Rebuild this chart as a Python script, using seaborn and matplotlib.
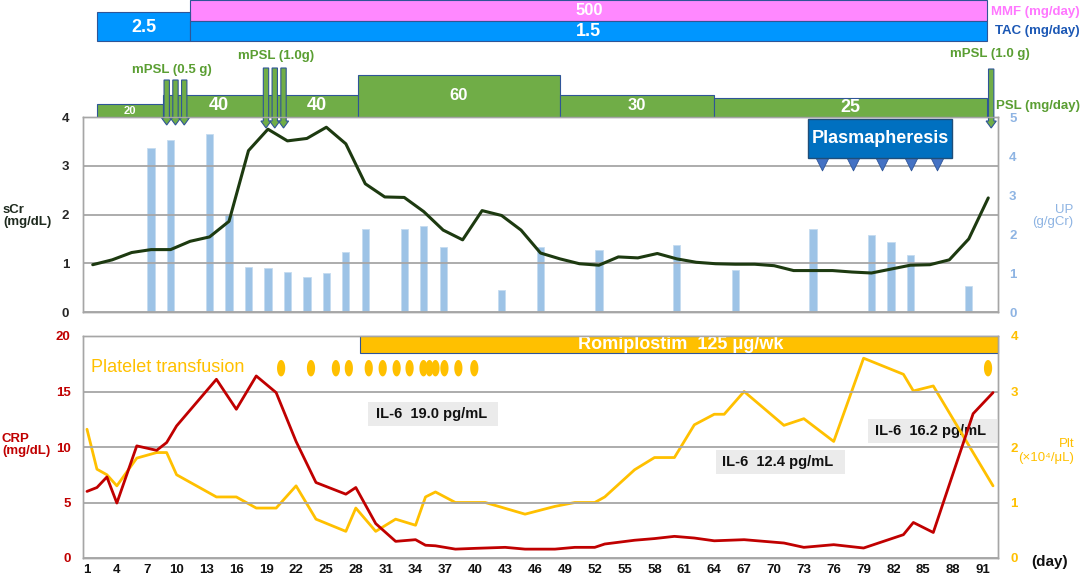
import numpy as np
import matplotlib
matplotlib.use("Agg")
import matplotlib.pyplot as plt
import seaborn as sns
from matplotlib.patches import Rectangle, FancyArrow
from matplotlib.path import Path

# -----------------------------
# data
# -----------------------------
# upper panel: samples every 2nd day
lab_day = list(range(1, 94, 2))
scr = [0.97, 1.07, 1.22, 1.28, 1.28, 1.45, 1.54, 1.86, 3.31, 3.75,
       3.51, 3.56, 3.79, 3.45, 2.63, 2.36, 2.35, 2.06, 1.68, 1.48,
       2.08, 1.98, 1.68, 1.21, 1.09, 0.99, 0.96, 1.13, 1.11, 1.20,
       1.09, 1.02, 0.99, 0.98, 0.98, 0.95, 0.85, 0.85, 0.85, 0.82,
       0.80, 0.88, 0.96, 0.97, 1.07, 1.50, 2.34]
up_day = [7, 9, 13, 15, 17, 19, 21, 23, 25, 27, 29, 33, 35, 37, 43, 47,
          53, 61, 67, 75, 81, 83, 85, 91]
up_val = [4.20, 4.40, 4.57, 2.52, 1.15, 1.12, 1.02, 0.91, 1.00, 1.53, 2.13,
          2.13, 2.20, 1.67, 0.56, 1.67, 1.58, 1.73, 1.07, 2.14, 1.97, 1.79,
          1.47, 0.66]

# lower panel
crp_day = [1, 2, 3, 4, 6, 8, 9, 10, 14, 16, 18, 20, 22, 24, 27, 28, 30, 32,
           34, 35, 36, 38, 40, 43, 45, 48, 50, 52, 53, 56, 58, 60, 62, 64,
           67, 71, 73, 76, 79, 83, 84, 86, 90, 92]
crp = [6.0, 6.35, 7.3, 4.95, 10.1, 9.7, 10.4, 11.9, 16.1, 13.4, 16.4, 14.9,
       10.5, 6.8, 5.75, 6.35, 3.1, 1.5, 1.65, 1.15, 1.1, 0.8, 0.87, 0.96,
       0.8, 0.8, 0.96, 0.96, 1.26, 1.6, 1.75, 1.95, 1.8, 1.55, 1.65, 1.35,
       0.96, 1.2, 0.9, 2.1, 3.2, 2.3, 13.0, 14.9]
plt_day = [1, 2, 3, 4, 6, 8, 9, 10, 14, 16, 18, 20, 22, 24, 27, 28, 30, 32,
           34, 35, 36, 38, 41, 45, 48, 50, 52, 53, 56, 58, 60, 62, 64, 65,
           67, 71, 73, 76, 79, 83, 84, 86, 88, 92]
plt_val = [2.32, 1.6, 1.5, 1.3, 1.8, 1.9, 1.9, 1.5, 1.1, 1.1, 0.9, 0.9, 1.3,
           0.7, 0.48, 0.9, 0.48, 0.7, 0.59, 1.1, 1.19, 1.0, 1.0, 0.79, 0.93,
           1.0, 1.0, 1.1, 1.59, 1.81, 1.81, 2.4, 2.59, 2.59, 3.0, 2.39, 2.51,
           2.1, 3.6, 3.31, 3.01, 3.1, 2.5, 1.3]
transfusion_day = [20.5, 23.5, 26, 27.3, 29.3, 30.7, 32.1, 33.4, 34.8, 35.4,
                   36.0, 36.9, 38.3, 39.9, 91.5]
romi_start = 28.4
il6_text = ["IL-6  19.0 pg/mL", "IL-6  12.4 pg/mL", "IL-6  16.2 pg/mL"]

# medication (upper-panel day scale)
mmf_span = (11.0, 92.9)
mmf_dose = "500"
tac_start = [1.45, 11.0]
tac_end = [11.0, 92.9]
tac_dose = ["2.5", "1.5"]
psl_start = [1.45, 8.2, 19.7, 28.25, 49.0, 64.8]
psl_end = [8.2, 19.7, 28.25, 49.0, 64.8, 92.9]
psl_dose = ["20", "40", "40", "60", "30", "25"]
mpsl_day = [8.6, 9.5, 10.4, 18.8, 19.7, 20.6, 93.3]
mpsl_label = ["mPSL (0.5 g)", "mPSL (1.0g)", "mPSL (1.0 g)"]
pex_day = [75.9, 79.1, 82.1, 85.1, 87.7]

# -----------------------------
# style
# -----------------------------
sns.set_theme(style="white")
plt.rcParams["font.family"] = ["Liberation Sans", "DejaVu Sans"]

GREEN = "#70ad47"
EDGE = "#2f5597"
GRID = "#a6a6a6"
RED = "#c00000"
ORANGE = "#ffc000"
UPBLUE = "#8eb4e3"

W, H = 1084, 578
fig = plt.figure(figsize=(W / 100, H / 100), dpi=100)


def fx(px):
    return px / W


def fy(py):
    return 1 - py / H


def frame(ax):
    for s in ax.spines.values():
        s.set_visible(True)
        s.set_color(GRID)
        s.set_linewidth(1.0)


# -----------------------------
# upper panel: sCr + UP
# -----------------------------
ax_up = fig.add_axes([fx(83), fy(312), fx(915), 195 / H])
ax_up2 = ax_up.twinx()
ax_up2.bar(up_day, up_val, width=0.75, color="#9dc3e6", edgecolor="#c5dcf0",
           linewidth=0.6)
ax_up2.set_ylim(0, 5)
ax_up2.set_yticks(range(0, 6))
ax_up2.tick_params(axis="y", length=0, pad=8, labelsize=9.5, labelcolor=UPBLUE)

sns.lineplot(x=lab_day, y=scr, ax=ax_up, color="#1d3a10", lw=2.2)
ax_up.set_zorder(ax_up2.get_zorder() + 1)
ax_up.patch.set_visible(False)
ax_up.set_xlim(0, 94)
ax_up.set_ylim(0, 4)
ax_up.set_yticks(range(0, 5))
ax_up.set_xticks([])
ax_up.yaxis.grid(True, color=GRID, lw=1.3)
ax_up.set_axisbelow(True)
ax_up.tick_params(axis="y", length=0, pad=10, labelsize=9.5, labelcolor="#262626")
for t in ax_up.get_yticklabels():
    t.set_fontweight("bold")
for t in ax_up2.get_yticklabels():
    t.set_fontweight("bold")
frame(ax_up)
frame(ax_up2)

# plasmapheresis box
ax_up.add_patch(Rectangle((74.5, 3.16), 89.3 - 74.5, 0.8, fc="#0070c0",
                          ec="#1f4e79", lw=1.0, zorder=6))
ax_up.text((74.5 + 89.3) / 2, 3.56, "Plasmapheresis", color="white",
           fontsize=13, fontweight="bold", ha="center", va="center", zorder=7)
sns.scatterplot(x=pex_day, y=[3.04] * len(pex_day), ax=ax_up, marker="v",
                s=85, color="#4472c4", edgecolor=EDGE, linewidth=0.6, zorder=5)

# -----------------------------
# lower panel: CRP + Plt
# -----------------------------
ax_lo = fig.add_axes([fx(83), fy(558), fx(915), 222 / H])
ax_lo2 = ax_lo.twinx()
ax_lo.set_zorder(ax_lo2.get_zorder() + 1)
ax_lo.patch.set_visible(False)

# IL-6 boxes
boxes = [(29.2, 11.9, 42.3, 14.05, 30.0), (64.2, 7.57, 77.1, 9.73, 64.8),
         (79.4, 10.36, 92.4, 12.5, 80.1)]
for (x0, y0, x1, y1, xt), txt in zip(boxes, il6_text):
    ax_lo2.add_patch(Rectangle((x0, y0 / 5), x1 - x0, (y1 - y0) / 5,
                               fc="#ebebeb", ec="none", zorder=0.5))
    ax_lo2.text(xt, (y0 + y1) / 10, txt, fontsize=10.5, fontweight="bold",
                color="#111111", va="center", ha="left", zorder=0.6)

sns.lineplot(x=plt_day, y=plt_val, ax=ax_lo2, color=ORANGE, lw=2.0)
sns.lineplot(x=crp_day, y=crp, ax=ax_lo, color=RED, lw=2.0)

ax_lo.set_xlim(0.6, 92.5)
ax_lo.set_ylim(0, 20)
ax_lo.set_yticks(range(0, 21, 5))
ax_lo.set_xticks(range(1, 92, 3))
ax_lo.yaxis.grid(True, color=GRID, lw=1.3)
ax_lo.tick_params(axis="y", length=0, pad=9, labelsize=9.5, labelcolor=RED)
ax_lo.tick_params(axis="x", length=0, pad=4, labelsize=9.5, labelcolor="#111111")
ax_lo2.set_ylim(0, 4)
ax_lo2.set_yticks(range(0, 5))
ax_lo2.tick_params(axis="y", length=0, pad=9, labelsize=9.5, labelcolor=ORANGE)
for t in ax_lo.get_yticklabels() + ax_lo.get_xticklabels() + ax_lo2.get_yticklabels():
    t.set_fontweight("bold")
frame(ax_lo)
frame(ax_lo2)

# romiplostim bar
ax_lo2.add_patch(Rectangle((romi_start, 3.69), 92.5 - romi_start, 0.31,
                           fc=ORANGE, ec=EDGE, lw=0.8, zorder=3, clip_on=False))
ax_lo2.text(60.6, 3.845, "Romiplostim  125 μg/wk", color="white", fontsize=13,
            fontweight="bold", ha="center", va="center", zorder=4)

# platelet transfusion dots (ellipse marker)
t = np.linspace(0, 2 * np.pi, 40)
ell = Path(np.column_stack([0.5 * np.cos(t), np.sin(t)]))
sns.scatterplot(x=transfusion_day, y=[3.42] * len(transfusion_day), ax=ax_lo2,
                marker=ell, s=140, color=ORANGE, edgecolor="none", zorder=4)
ax_lo2.text(1.4, 3.44, "Platelet transfusion", color=ORANGE, fontsize=13,
            ha="left", va="center")

# -----------------------------
# top: medication bars
# -----------------------------
ax_top = fig.add_axes([fx(83), fy(117), fx(915), 117 / H])
ax_top.set_xlim(0, 94)
ax_top.set_ylim(117, 0)
ax_top.axis("off")

ax_top.barh(10.5, mmf_span[1] - mmf_span[0], left=mmf_span[0], height=21,
            color="#ff88ff", edgecolor=EDGE, lw=0.8)
ax_top.text(52, 10.5, mmf_dose, color="white", fontsize=12, fontweight="bold",
            ha="center", va="center")
tac_y = [26.5, 31]
tac_h = [29, 20]
for s, e, d, yc, h in zip(tac_start, tac_end, tac_dose, tac_y, tac_h):
    ax_top.barh(yc, e - s, left=s, height=h, color="#0096ff", edgecolor=EDGE, lw=0.8)
    ax_top.text((s + e) / 2, yc + 0.5, d, color="white", fontsize=13,
                fontweight="bold", ha="center", va="center")

psl_h = [13, 22, 22, 42, 22, 19]
psl_fs = [8, 13, 13, 12, 12, 13]
for s, e, d, h, fs in zip(psl_start, psl_end, psl_dose, psl_h, psl_fs):
    ax_top.barh(117 - h / 2, e - s, left=s, height=h, color=GREEN,
                edgecolor=EDGE, lw=0.8)
    ax_top.text((s + e) / 2, 117 - h / 2, d, color="white", fontsize=fs,
                fontweight="bold", ha="center", va="center")

arrow_top = [80, 80, 80, 68, 68, 68, 69]
arrow_tip = [125, 125, 125, 128, 128, 128, 128]
for d, y0, y1 in zip(mpsl_day, arrow_top, arrow_tip):
    ax_top.add_patch(FancyArrow(d, y0, 0, y1 - y0, width=0.55, head_width=1.05,
                                head_length=7, length_includes_head=True,
                                fc=GREEN, ec=EDGE, lw=0.8, clip_on=False,
                                zorder=6))

for lbl, x, y in zip(mpsl_label, [9.15, 19.8, 93.2], [70, 56, 54]):
    ax_top.text(x, y, lbl, color="#5a9e32", fontsize=9.5, fontweight="bold",
                ha="center", va="center", clip_on=False)

# -----------------------------
# axis titles and side labels
# -----------------------------
fig.text(fx(1080), fy(12), "MMF (mg/day)", color="#ff77ff", fontsize=9.5,
         fontweight="bold", ha="right", va="center")
fig.text(fx(1080), fy(31), "TAC (mg/day)", color="#1c58b5", fontsize=9.5,
         fontweight="bold", ha="right", va="center")
fig.text(fx(1080), fy(106), "PSL (mg/day)", color="#5a9e32", fontsize=9.5,
         fontweight="bold", ha="right", va="center")

fig.text(fx(3), fy(216), "sCr\n(mg/dL)", color="#1e2a1e", fontsize=9.5,
         fontweight="bold", ha="left", va="center", linespacing=1.1)
fig.text(fx(1073), fy(216), "UP\n(g/gCr)", color=UPBLUE, fontsize=9.5,
         ha="right", va="center", linespacing=1.1, multialignment="right")
fig.text(fx(2), fy(445), "CRP\n(mg/dL)", color=RED, fontsize=9.5,
         fontweight="bold", ha="left", va="center", linespacing=1.1)
fig.text(fx(1074), fy(451), "Plt\n(×10⁴/μL)", color=ORANGE, fontsize=9.5,
         ha="right", va="center", linespacing=1.2, multialignment="right")
fig.text(fx(1050), fy(562), "(day)", color="#111111", fontsize=11,
         fontweight="bold", ha="center", va="center")

fig.savefig("out.png", dpi=100)
